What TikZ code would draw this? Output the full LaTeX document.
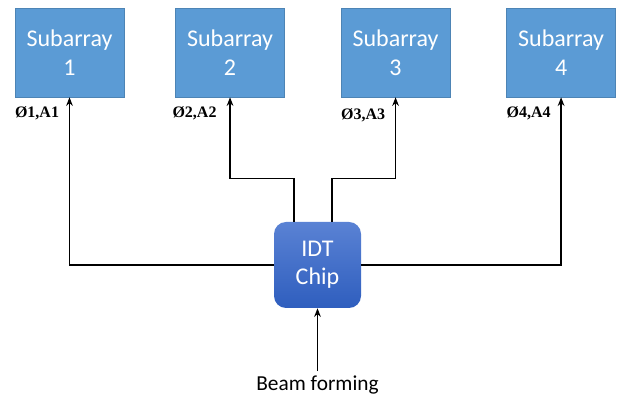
\documentclass[tikz,border=0pt]{standalone}
\usepackage{fontspec}
\setmainfont{Carlito}
\newfontfamily\labfont{Liberation Serif}
\usetikzlibrary{positioning,calc,arrows.meta}
\definecolor{subblue}{HTML}{5B9BD5}
\definecolor{chiptop}{HTML}{5A82D4}
\definecolor{chipbot}{HTML}{2F5EBE}
\tikzset{
	sub/.style={draw=subblue!85!black,fill=subblue,line width=0.4pt,minimum width=81.75pt,minimum height=66.75pt,text=white,align=center,font=\fontsize{18}{22}\selectfont},
	chip/.style={rounded corners=9pt,top color=chiptop,bottom color=chipbot,minimum width=65.25pt,minimum height=64.5pt,text=white,align=center,font=\fontsize{18}{21}\selectfont},
	lab/.style={inner sep=0pt,anchor=west,font=\labfont\bfseries\fontsize{12}{14}\selectfont},
	wire/.style={-{Stealth[length=6.5pt,width=5pt]},line width=1.1pt}
}
\begin{document}
\begin{tikzpicture}[x=0.75pt,y=0.75pt]
		\useasboundingbox (0,0) rectangle (621,399);
		% subarrays
		\node[sub] (sub1) at (69.5,346.5) {Subarray\\1};
		\node[sub,right=38.25pt of sub1] (sub2) {Subarray\\2};
		\node[sub,right=42pt of sub2] (sub3) {Subarray\\3};
		\node[sub,right=42pt of sub3] (sub4) {Subarray\\4};
		
		\node[lab] (lab1) at ($(sub1.south west)+(0,-16)$) {Ø1,A1};
		\node[lab] (lab2) at ($(sub2.south west)+(-3,-16)$) {Ø2,A2};
		\node[lab] (lab3) at ($(sub3.south west)+(0,-18)$) {Ø3,A3};
		\node[lab] (lab4) at ($(sub4.south west)+(0,-16)$) {Ø4,A4};
		
		% chip and input
		\node[chip] (chip) at (317.5,134) {IDT\\Chip};
		\node[font=\fontsize{16}{19}\selectfont] (beam) at (317.5,14) {Beam forming};
		
		\draw[wire] (chip.west) -| (sub1.south);
		\draw[wire] (chip.east) -| (sub4.south);
		\coordinate (up2) at ($(chip.north)+(-23.5,0)$);
		\coordinate (up3) at ($(chip.north)+(14.5,0)$);
		\draw[wire] (up2) -- ++(0,43) -| (sub2.south);
		\draw[wire] (up3) -- ++(0,43) -| (sub3.south);
		\draw[wire] (beam.north) -- (chip.south);
	\end{tikzpicture}
\end{document}
